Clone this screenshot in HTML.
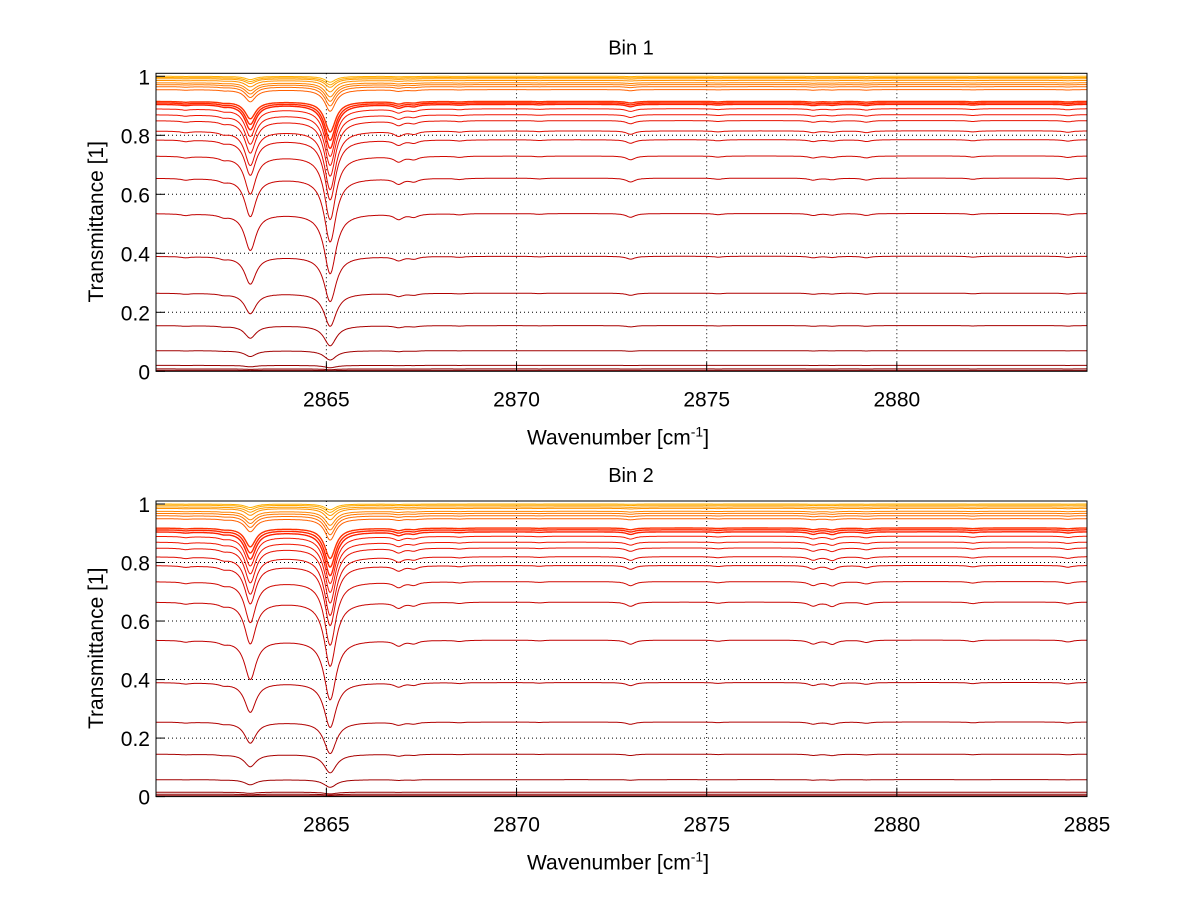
<!DOCTYPE html>
<html><head><meta charset="utf-8"><style>
html,body{margin:0;padding:0;background:#fff;}
svg{display:block;font-family:"Liberation Sans",sans-serif;}
</style></head><body>
<svg id="chart" width="1200" height="901" viewBox="0 0 1200 901" xmlns="http://www.w3.org/2000/svg"></svg>
<script>
// ---- data ----
const xTicks = [2865, 2870, 2875, 2880, 2885];
const yTicks = [0, 0.2, 0.4, 0.6, 0.8, 1];
const yTickLabels = ["0", "0.2", "0.4", "0.6", "0.8", "1"];
const lineCenters = [2861.3, 2862.3, 2863.0, 2865.1, 2866.9, 2867.3, 2868.5, 2870.6, 2873.0, 2875.3, 2877.8, 2878.3, 2879.2, 2882.0, 2884.5];
const lineStrengths1 = [0.02, 0.03, 0.55, 1.0, 0.07, 0.04, 0.015, 0.01, 0.05, 0.015, 0.025, 0.02, 0.025, 0.015, 0.02];
const lineStrengths2 = [0.02, 0.03, 0.6, 1.0, 0.07, 0.04, 0.015, 0.01, 0.055, 0.015, 0.05, 0.055, 0.03, 0.02, 0.025];
const baseLevels1 = [1.0, 0.996, 0.992, 0.986, 0.978, 0.972, 0.965, 0.955, 0.915, 0.91, 0.905, 0.89, 0.87, 0.85, 0.815, 0.785, 0.73, 0.655, 0.535, 0.39, 0.265, 0.155, 0.07, 0.02, 0.008, 0.003];
const baseLevels2 = [1.0, 0.996, 0.99, 0.985, 0.975, 0.968, 0.96, 0.95, 0.918, 0.912, 0.905, 0.89, 0.87, 0.85, 0.82, 0.79, 0.735, 0.665, 0.535, 0.39, 0.255, 0.145, 0.058, 0.015, 0.008, 0.003];
const depthScales = [0.02, 0.025, 0.03, 0.04, 0.05, 0.06, 0.07, 0.08, 0.12, 0.15, 0.18, 0.2, 0.22, 0.25, 0.28, 0.3, 0.35, 0.4, 0.48, 0.5, 0.55, 0.58, 0.6, 0.5, 0.4, 0.3];
const colors = ["#ffb000","#ffa800","#ff9c00","#ff9000","#ff8400","#ff7800","#ff6c00","#ff6000","#ff3000","#ff2800","#ff2000","#f81800","#f01400","#e81000","#e00c00","#d80800","#d00800","#c80400","#c00000","#b80000","#b00000","#a80000","#a00000","#980000","#900000","#880000"];

const NS = "http://www.w3.org/2000/svg";
const svg = document.getElementById('chart');
const X0 = 2860.52, X1 = 2885, PX0 = 156, PX1 = 1087;
function xs(v){ return PX0 + (v - X0) / (X1 - X0) * (PX1 - PX0); }
function mk(tag, attrs, parent){ const e = document.createElementNS(NS, tag); for (const k in attrs) e.setAttribute(k, attrs[k]); (parent||svg).appendChild(e); return e; }
function shape(x, strengths){
  let s = 0;
  for (let i = 0; i < lineCenters.length; i++){
    const g = (i === 2 || i === 3) ? 0.17 : 0.14;
    const d = (x - lineCenters[i]) / g;
    s += strengths[i] / (1 + d * d);
  }
  return s;
}

function panel(idx, title, yTop, yBot, bases, strengths, showLast){
  const ys = v => yBot - v * (yBot - yTop);
  const g = mk('g', {});
  
  
  xTicks.forEach(t => {
    if (t >= X1) return;
    const gl = mk('line', {x1: xs(t), x2: xs(t), y1: yTop - 3, y2: yBot, stroke: '#000', 'stroke-width': 1, 'stroke-dasharray': '1,3'}, g);
    
    
  });
  yTicks.forEach(t => {
    if (t === 0 || t === 1) return;
    const gl = mk('line', {x1: PX0, x2: PX1, y1: ys(t), y2: ys(t), stroke: '#000', 'stroke-width': 1, 'stroke-dasharray': '1,3'}, g);
    
    
  });
  for (let c = 0; c < bases.length; c++){
    let d = '';
    for (let x = X0; x <= X1 + 1e-9; x += 0.025){
      const v = bases[c] * Math.exp(-depthScales[c] * shape(x, strengths));
      d += (d ? 'L' : 'M') + xs(x).toFixed(1) + ',' + ys(v).toFixed(1);
    }
    const p = mk('path', {d: d, fill: 'none', stroke: colors[c], 'stroke-width': (c >= 8 && c <= 10) ? 1.4 : 1}, g);
    
    
  }
  const box = mk('rect', {x: PX0, y: yTop - 3, width: PX1 - PX0, height: yBot - yTop + 3, fill: 'none', stroke: '#000', 'stroke-width': 1}, g);
  
  
  xTicks.forEach(t => {
    mk('line', {x1: xs(t), x2: xs(t), y1: yBot, y2: yBot - 9, stroke: '#000'}, g);
    if (t >= X1 && !showLast) return;
    const tx = mk('text', {x: xs(t), y: yBot + 35, 'font-size': 21, 'text-anchor': 'middle'}, g);
    tx.textContent = t;
    
    
  });
  yTicks.forEach((t, i) => {
    mk('line', {x1: PX0, x2: PX0 + 9, y1: ys(t), y2: ys(t), stroke: '#000'}, g);
    const tx = mk('text', {x: PX0 - 6, y: ys(t) + 8, 'font-size': 21, 'text-anchor': 'end'}, g);
    tx.textContent = yTickLabels[i];
    
    
  });
  const tt = mk('text', {x: 631, y: yTop - 22, 'font-size': 20, 'text-anchor': 'middle'}, g);
  tt.textContent = title;
  
  
  const yl = mk('text', {x: 0, y: 0, 'font-size': 21, 'text-anchor': 'middle', transform: 'translate(103,' + ((yTop + yBot) / 2 - 2) + ') rotate(-90)'}, g);
  yl.textContent = 'Transmittance [1]';
  
  
  const xl = mk('text', {x: 618, y: yBot + 73, 'font-size': 21, 'text-anchor': 'middle'}, g);
  xl.innerHTML = 'Wavenumber [cm<tspan dy="-8" font-size="14">-1</tspan><tspan dy="8">]</tspan>';
  
  
}
panel(1, 'Bin 1', 76.3, 371.3, baseLevels1, lineStrengths1, false);
panel(2, 'Bin 2', 504, 796.6, baseLevels2, lineStrengths2, true);
</script>
</body></html>
